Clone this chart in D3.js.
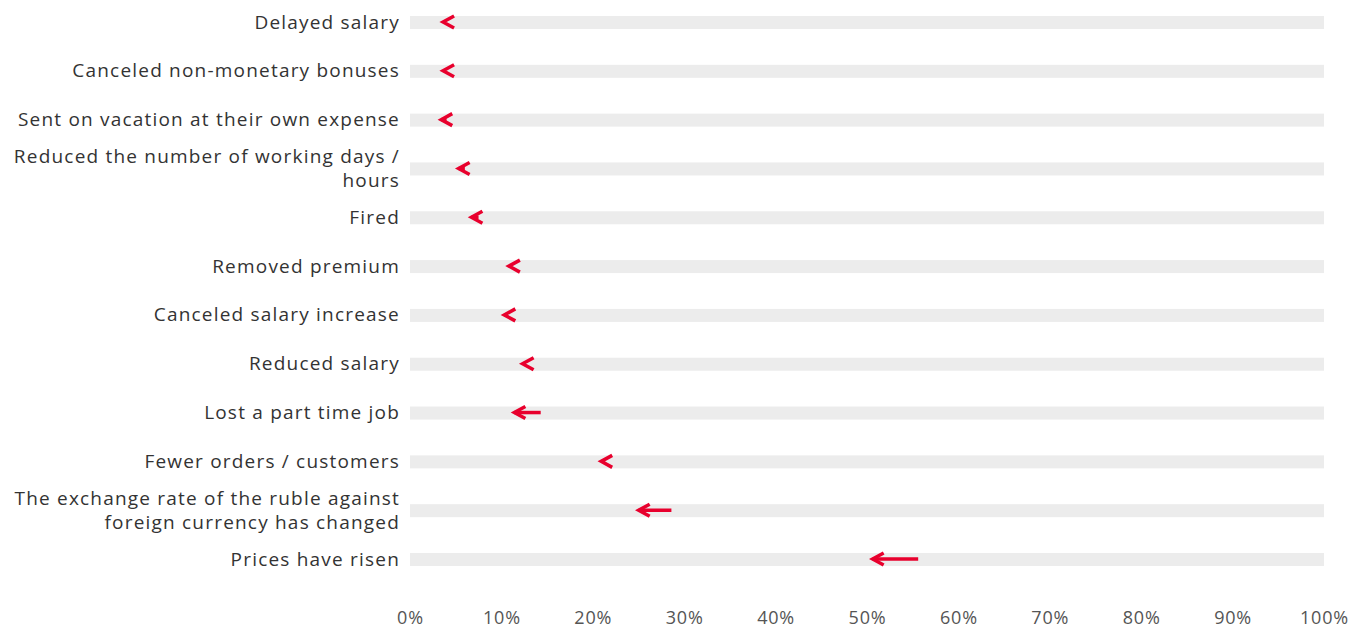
<!DOCTYPE html>
<html>
<head>
<meta charset="utf-8">
<script src="https://cdn.jsdelivr.net/npm/d3@7"></script>
<style>
  body { margin: 0; background: #fff; }
  svg { display: block; font-family: "Open Sans", "Noto Sans", sans-serif; }
</style>
</head>
<body>
<div id="chart"></div>
<script>
// chart data
const categories = [
  "Delayed salary",
  "Canceled non-monetary bonuses",
  "Sent on vacation at their own expense",
  "Reduced the number of working days / hours",
  "Fired",
  "Removed premium",
  "Canceled salary increase",
  "Reduced salary",
  "Lost a part time job",
  "Fewer orders / customers",
  "The exchange rate of the ruble against foreign currency has changed",
  "Prices have risen"
];
// label lines where the original wraps
const labelLines = [
  ["Delayed salary"],
  ["Canceled non-monetary bonuses"],
  ["Sent on vacation at their own expense"],
  ["Reduced the number of working days /", "hours"],
  ["Fired"],
  ["Removed premium"],
  ["Canceled salary increase"],
  ["Reduced salary"],
  ["Lost a part time job"],
  ["Fewer orders / customers"],
  ["The exchange rate of the ruble against", "foreign currency has changed"],
  ["Prices have risen"]
];
const startValues = [3.4, 3.5, 4.0, 6.0, 7.5, 10.9, 10.6, 12.2, 14.3, 20.8, 28.6, 55.6];
const endValues   = [3.4, 3.4, 3.2, 5.1, 6.5, 10.6, 10.1, 12.1, 11.2, 20.7, 24.8, 50.4];
const tickValues = [0, 10, 20, 30, 40, 50, 60, 70, 80, 90, 100];

const width = 1351, height = 629;
const red = "#e8002d";

const svg = d3.select("#chart").append("svg")
  .attr("width", width)
  .attr("height", height);

const x = d3.scaleLinear().domain([0, 100]).range([410, 1324]);
const y = d3.scalePoint().domain(categories).range([22, 559]);

// background tracks
svg.append("g").selectAll("rect")
  .data(categories)
  .join("rect")
  .attr("x", x(0))
  .attr("y", (d) => y(d) - 6)
  .attr("width", x(100) - x(0))
  .attr("height", 13)
  .attr("fill", "#ececec");

// labels
const labels = svg.append("g").selectAll("text")
  .data(categories)
  .join("text")
  .attr("x", 400)
  .attr("y", (d) => y(d))
  .attr("text-anchor", "end")
  .attr("font-size", 19)
  .attr("letter-spacing", 1.2)
  .attr("fill", "#333");

labels.each(function(d, i) {
  const lines = labelLines[i];
  const t = d3.select(this);
  lines.forEach((line, j) => {
    t.append("tspan")
      .attr("x", 400)
      .attr("y", y(d) + (j - (lines.length - 1) / 2) * 24 + 6.5)
      .text(line);
  });
});

// arrows
const arrows = svg.append("g").selectAll("g")
  .data(categories.map((c, i) => ({ c, s: startValues[i], e: endValues[i] })))
  .join("g");

arrows.append("line")
  .attr("x1", (d) => x(d.s))
  .attr("x2", (d) => Math.min(x(d.s), x(d.e) + 2))
  .attr("y1", (d) => y(d.c))
  .attr("y2", (d) => y(d.c))
  .attr("stroke", red)
  .attr("stroke-width", 3.5);

arrows.append("path")
  .attr("d", (d) => {
    const tx = x(d.e) + 2, ty = y(d.c);
    return `M${tx + 11},${ty - 6}L${tx},${ty}L${tx + 11},${ty + 6}`;
  })
  .attr("fill", "none")
  .attr("stroke", red)
  .attr("stroke-width", 3.5)
  .attr("stroke-linejoin", "miter")
  .attr("stroke-linecap", "butt");

// x axis
const axis = svg.append("g")
  .attr("transform", "translate(0,624)")
  .call(d3.axisBottom(x).tickValues(tickValues).tickFormat((d) => d + "%").tickSize(0));
axis.select(".domain").remove();
axis.selectAll("text")
  .attr("font-size", 18)
  .attr("letter-spacing", 0.8)
  .attr("font-family", "'Open Sans', 'Noto Sans', sans-serif")
  .attr("fill", "#555")
  .attr("dy", 0)
  .attr("y", 0);
</script>
</body>
</html>
